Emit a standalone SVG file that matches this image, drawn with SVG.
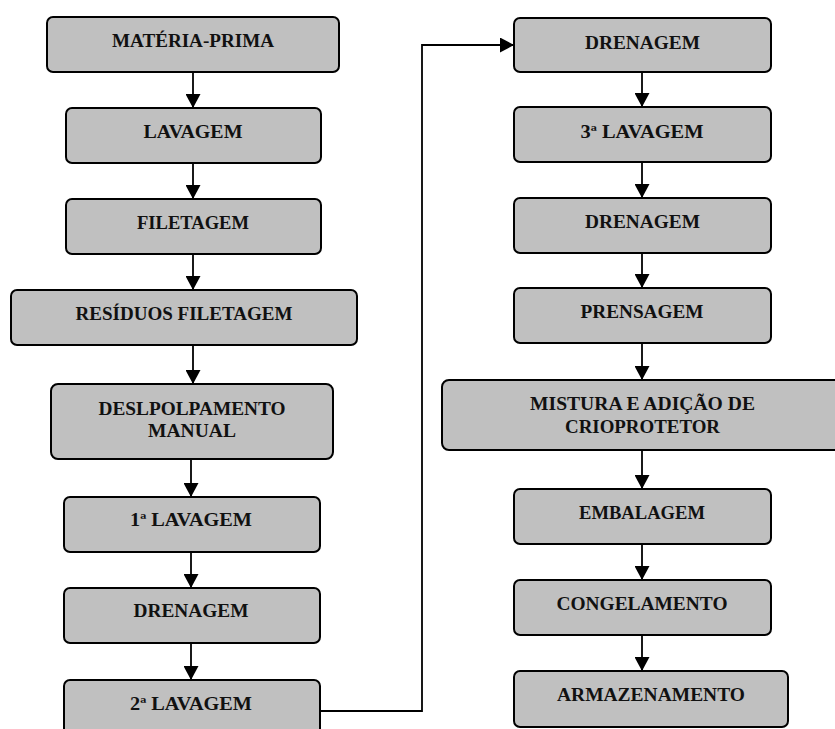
<svg xmlns="http://www.w3.org/2000/svg" width="835" height="729" viewBox="0 0 835 729">
<style>
.box{fill:#c0c0c0;stroke:#000;stroke-width:2}
.lbl{font-family:"Liberation Serif","Times New Roman",serif;font-weight:bold;font-size:18.5px;fill:#111;text-anchor:middle}
.con{fill:none;stroke:#000;stroke-width:1.8}
</style>
<defs>
<marker id="ah" markerUnits="userSpaceOnUse" markerWidth="14" markerHeight="15" refX="14" refY="7.5" orient="auto" viewBox="0 0 14 15">
<path d="M0,0 L14,7.5 L0,15 Z" fill="#000"/>
</marker>
</defs>
<rect width="835" height="729" fill="#fff"/>
<g id="connectors">
<line class="con" x1="193" y1="72" x2="193" y2="108" marker-end="url(#ah)"/>
<line class="con" x1="193" y1="163" x2="193" y2="199" marker-end="url(#ah)"/>
<line class="con" x1="193" y1="254" x2="193" y2="290" marker-end="url(#ah)"/>
<line class="con" x1="193" y1="345" x2="193" y2="384" marker-end="url(#ah)"/>
<line class="con" x1="191" y1="459" x2="191" y2="497" marker-end="url(#ah)"/>
<line class="con" x1="191" y1="552" x2="191" y2="588" marker-end="url(#ah)"/>
<line class="con" x1="191" y1="643" x2="191" y2="680" marker-end="url(#ah)"/>
<polyline class="con" points="320,711 422,711 422,45 514,45" marker-end="url(#ah)"/>
<line class="con" x1="642" y1="72" x2="642" y2="107" marker-end="url(#ah)"/>
<line class="con" x1="642" y1="162" x2="642" y2="198" marker-end="url(#ah)"/>
<line class="con" x1="642" y1="253" x2="642" y2="288" marker-end="url(#ah)"/>
<line class="con" x1="642" y1="343" x2="642" y2="380" marker-end="url(#ah)"/>
<line class="con" x1="642" y1="450" x2="642" y2="489" marker-end="url(#ah)"/>
<line class="con" x1="642" y1="544" x2="642" y2="580" marker-end="url(#ah)"/>
<line class="con" x1="642" y1="635" x2="642" y2="671" marker-end="url(#ah)"/>
</g>
<g id="n1"><rect class="box" x="47" y="17" width="292" height="55" rx="6"/><text class="lbl" x="193" y="47" textLength="162" lengthAdjust="spacingAndGlyphs">MATÉRIA-PRIMA</text></g>
<g id="n2"><rect class="box" x="66" y="108" width="255" height="55" rx="6"/><text class="lbl" x="193" y="138" textLength="99" lengthAdjust="spacingAndGlyphs">LAVAGEM</text></g>
<g id="n3"><rect class="box" x="66" y="199" width="255" height="55" rx="6"/><text class="lbl" x="193" y="229" textLength="112" lengthAdjust="spacingAndGlyphs">FILETAGEM</text></g>
<g id="n4"><rect class="box" x="11" y="290" width="346" height="55" rx="6"/><text class="lbl" x="184" y="320" textLength="217" lengthAdjust="spacingAndGlyphs">RESÍDUOS FILETAGEM</text></g>
<g id="n5"><rect class="box" x="51" y="384" width="282" height="75" rx="7"/><text class="lbl" x="192" y="415" textLength="187" lengthAdjust="spacingAndGlyphs">DESLPOLPAMENTO</text><text class="lbl" x="192" y="437" textLength="88" lengthAdjust="spacingAndGlyphs">MANUAL</text></g>
<g id="n6"><rect class="box" x="64" y="497" width="256" height="55" rx="6"/><text class="lbl" x="191" y="526" textLength="122" lengthAdjust="spacingAndGlyphs">1ª LAVAGEM</text></g>
<g id="n7"><rect class="box" x="64" y="588" width="256" height="55" rx="6"/><text class="lbl" x="191" y="617" textLength="115" lengthAdjust="spacingAndGlyphs">DRENAGEM</text></g>
<g id="n8"><rect class="box" x="64" y="680" width="256" height="70" rx="6"/><text class="lbl" x="191" y="710" textLength="122" lengthAdjust="spacingAndGlyphs">2ª LAVAGEM</text></g>
<g id="n9"><rect class="box" x="514" y="18" width="257" height="54" rx="6"/><text class="lbl" x="642.5" y="49" textLength="115" lengthAdjust="spacingAndGlyphs">DRENAGEM</text></g>
<g id="n10"><rect class="box" x="514" y="107" width="257" height="55" rx="6"/><text class="lbl" x="642" y="138" textLength="123" lengthAdjust="spacingAndGlyphs">3ª LAVAGEM</text></g>
<g id="n11"><rect class="box" x="514" y="198" width="257" height="55" rx="6"/><text class="lbl" x="642.5" y="228" textLength="115" lengthAdjust="spacingAndGlyphs">DRENAGEM</text></g>
<g id="n12"><rect class="box" x="514" y="288" width="257" height="55" rx="6"/><text class="lbl" x="642" y="318" textLength="123" lengthAdjust="spacingAndGlyphs">PRENSAGEM</text></g>
<g id="n13"><rect class="box" x="442" y="380" width="410" height="70" rx="7"/><text class="lbl" x="642.5" y="410" textLength="225" lengthAdjust="spacingAndGlyphs">MISTURA E ADIÇÃO DE</text><text class="lbl" x="642.5" y="433" textLength="155" lengthAdjust="spacingAndGlyphs">CRIOPROTETOR</text></g>
<g id="n14"><rect class="box" x="514" y="489" width="257" height="55" rx="6"/><text class="lbl" x="642" y="519" textLength="126" lengthAdjust="spacingAndGlyphs">EMBALAGEM</text></g>
<g id="n15"><rect class="box" x="514" y="580" width="257" height="55" rx="6"/><text class="lbl" x="642" y="610" textLength="171" lengthAdjust="spacingAndGlyphs">CONGELAMENTO</text></g>
<g id="n16"><rect class="box" x="514" y="671" width="274" height="56" rx="6"/><text class="lbl" x="651" y="701" textLength="188" lengthAdjust="spacingAndGlyphs">ARMAZENAMENTO</text></g>
</svg>
